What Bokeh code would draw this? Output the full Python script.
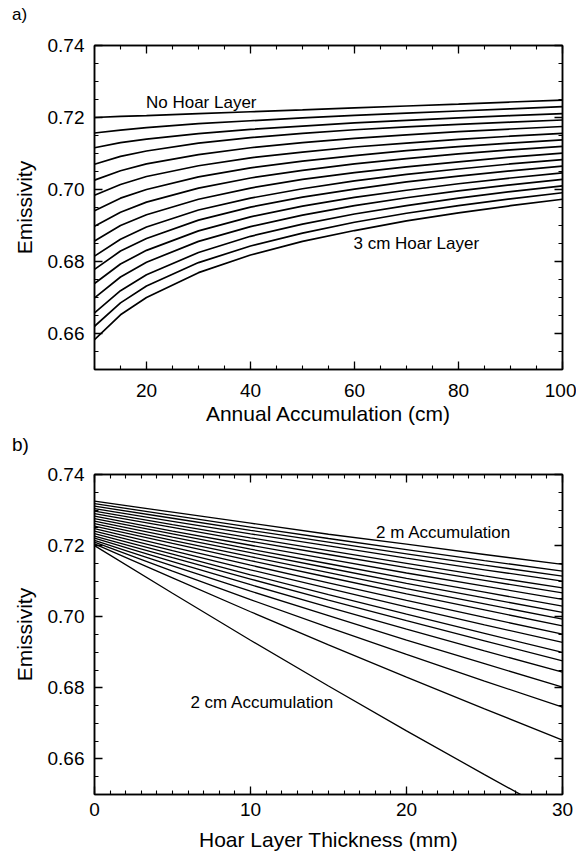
import numpy as np
from bokeh.plotting import figure
from bokeh.layouts import column
from bokeh.models import (Range1d, LinearAxis, FixedTicker, PrintfTickFormatter,
                          CustomLabelingPolicy, Div)
from bokeh.core.properties import value
from bokeh.embed import file_html
from bokeh.resources import INLINE

# ---------------- Panel a: emissivity vs annual accumulation ----------------
accumulation_cm = [10, 15, 20, 30, 40, 50, 60, 70, 80, 90, 100]
hoar_00mm = [0.7200, 0.7203, 0.7205, 0.7211, 0.7216, 0.7221, 0.7227, 0.7232, 0.7237, 0.7243, 0.7248]
hoar_02mm = [0.7157, 0.7165, 0.7172, 0.7183, 0.7191, 0.7199, 0.7206, 0.7212, 0.7218, 0.7224, 0.7230]
hoar_04mm = [0.7116, 0.7130, 0.7140, 0.7155, 0.7167, 0.7176, 0.7185, 0.7192, 0.7199, 0.7205, 0.7211]
hoar_06mm = [0.7070, 0.7092, 0.7107, 0.7129, 0.7144, 0.7156, 0.7166, 0.7174, 0.7181, 0.7187, 0.7193]
hoar_08mm = [0.7026, 0.7052, 0.7071, 0.7097, 0.7116, 0.7130, 0.7142, 0.7152, 0.7161, 0.7168, 0.7175]
hoar_10mm = [0.6984, 0.7014, 0.7036, 0.7066, 0.7088, 0.7104, 0.7118, 0.7129, 0.7139, 0.7148, 0.7156]
hoar_12mm = [0.6941, 0.6976, 0.7000, 0.7035, 0.7060, 0.7079, 0.7094, 0.7108, 0.7119, 0.7129, 0.7138]
hoar_14mm = [0.6898, 0.6937, 0.6965, 0.7004, 0.7032, 0.7053, 0.7071, 0.7086, 0.7099, 0.7110, 0.7120]
hoar_16mm = [0.6857, 0.6900, 0.6930, 0.6973, 0.7004, 0.7028, 0.7047, 0.7063, 0.7077, 0.7090, 0.7101]
hoar_18mm = [0.6815, 0.6862, 0.6896, 0.6943, 0.6976, 0.7002, 0.7024, 0.7042, 0.7057, 0.7071, 0.7083]
hoar_20mm = [0.6778, 0.6829, 0.6864, 0.6915, 0.6951, 0.6979, 0.7001, 0.7021, 0.7037, 0.7052, 0.7065]
hoar_22mm = [0.6739, 0.6793, 0.6831, 0.6885, 0.6924, 0.6954, 0.6978, 0.6998, 0.7016, 0.7032, 0.7046]
hoar_24mm = [0.6699, 0.6757, 0.6798, 0.6856, 0.6897, 0.6929, 0.6955, 0.6977, 0.6996, 0.7013, 0.7028]
hoar_26mm = [0.6657, 0.6719, 0.6763, 0.6825, 0.6870, 0.6904, 0.6932, 0.6955, 0.6976, 0.6994, 0.7010]
hoar_28mm = [0.6620, 0.6685, 0.6732, 0.6797, 0.6843, 0.6879, 0.6909, 0.6934, 0.6955, 0.6974, 0.6991]
hoar_30mm = [0.6583, 0.6652, 0.6700, 0.6769, 0.6818, 0.6856, 0.6886, 0.6913, 0.6935, 0.6955, 0.6973]
hoar_series = [hoar_00mm, hoar_02mm, hoar_04mm, hoar_06mm, hoar_08mm, hoar_10mm,
               hoar_12mm, hoar_14mm, hoar_16mm, hoar_18mm, hoar_20mm, hoar_22mm,
               hoar_24mm, hoar_26mm, hoar_28mm, hoar_30mm]

a_xticks = [20, 40, 60, 80, 100]
a_yticks = [0.66, 0.68, 0.70, 0.72, 0.74]

# ---------------- Panel b: emissivity vs hoar layer thickness ----------------
thickness_mm = [0, 5, 10, 15, 20, 25, 30]
acc_line_20 = [0.7325, 0.7294, 0.7263, 0.7232, 0.7204, 0.7175, 0.7147]   # 2 m
acc_line_19 = [0.7318, 0.7285, 0.7252, 0.7220, 0.7189, 0.7158, 0.7128]
acc_line_18 = [0.7311, 0.7277, 0.7243, 0.7210, 0.7177, 0.7145, 0.7114]
acc_line_17 = [0.7304, 0.7268, 0.7233, 0.7199, 0.7165, 0.7132, 0.7100]
acc_line_16 = [0.7297, 0.7259, 0.7222, 0.7186, 0.7150, 0.7115, 0.7081]
acc_line_15 = [0.7290, 0.7251, 0.7212, 0.7175, 0.7138, 0.7102, 0.7067]
acc_line_14 = [0.7283, 0.7241, 0.7201, 0.7162, 0.7123, 0.7086, 0.7049]
acc_line_13 = [0.7276, 0.7233, 0.7190, 0.7149, 0.7108, 0.7069, 0.7030]
acc_line_12 = [0.7269, 0.7224, 0.7180, 0.7137, 0.7094, 0.7053, 0.7012]
acc_line_11 = [0.7262, 0.7215, 0.7169, 0.7124, 0.7079, 0.7036, 0.6993]
acc_line_10 = [0.7255, 0.7206, 0.7158, 0.7111, 0.7064, 0.7019, 0.6974]
acc_line_09 = [0.7248, 0.7196, 0.7145, 0.7095, 0.7046, 0.6998, 0.6951]
acc_line_08 = [0.7241, 0.7186, 0.7132, 0.7080, 0.7028, 0.6977, 0.6928]
acc_line_07 = [0.7234, 0.7176, 0.7118, 0.7062, 0.7007, 0.6953, 0.6900]
acc_line_06 = [0.7227, 0.7166, 0.7106, 0.7047, 0.6989, 0.6932, 0.6876]
acc_line_05 = [0.7221, 0.7155, 0.7090, 0.7027, 0.6965, 0.6904, 0.6844]
acc_line_04 = [0.7215, 0.7143, 0.7072, 0.7003, 0.6934, 0.6868, 0.6802]
acc_line_03 = [0.7210, 0.7128, 0.7048, 0.6970, 0.6894, 0.6819, 0.6746]
acc_line_02 = [0.7205, 0.7109, 0.7014, 0.6921, 0.6830, 0.6741, 0.6653]
acc_line_01 = [0.7200, 0.7066, 0.6934, 0.6805, 0.6679, 0.6556, 0.6435]   # 2 cm
acc_series = [acc_line_01, acc_line_02, acc_line_03, acc_line_04, acc_line_05,
              acc_line_06, acc_line_07, acc_line_08, acc_line_09, acc_line_10,
              acc_line_11, acc_line_12, acc_line_13, acc_line_14, acc_line_15,
              acc_line_16, acc_line_17, acc_line_18, acc_line_19, acc_line_20]

b_xticks = [0, 10, 20, 30]
b_yticks = [0.66, 0.68, 0.70, 0.72, 0.74]

panel_tags = ["a)", "b)"]

FONT = "Liberation Sans"


def style_axes(p, xticks, xminor, yticks, yminor, xfmt):
    p.add_layout(LinearAxis(), "above")
    p.add_layout(LinearAxis(), "right")
    p.grid.visible = False
    p.outline_line_color = "black"
    p.outline_line_width = 1.5
    for ax in p.xaxis:
        ax.ticker = FixedTicker(ticks=xticks, minor_ticks=xminor)
        ax.formatter = PrintfTickFormatter(format=xfmt)
    for ax in p.yaxis:
        ax.ticker = FixedTicker(ticks=yticks, minor_ticks=yminor)
        ax.formatter = PrintfTickFormatter(format="%.2f")
    for ax in list(p.xaxis) + list(p.yaxis):
        ax.axis_line_color = "black"
        ax.axis_line_width = 1.5
        ax.major_tick_line_color = "black"
        ax.minor_tick_line_color = "black"
        ax.major_tick_line_width = 1.3
        ax.minor_tick_line_width = 1.1
        ax.major_tick_in = 8
        ax.major_tick_out = 0
        ax.minor_tick_in = 4
        ax.minor_tick_out = 0
        ax.major_label_text_font = FONT
        ax.major_label_text_font_size = "19px"
        ax.major_label_text_color = "black"
        ax.axis_label_text_font = FONT
        ax.axis_label_text_font_size = "21px"
        ax.axis_label_text_font_style = "normal"
        ax.axis_label_text_color = "black"
    for ax in p.above + p.right:
        ax.major_label_text_font_size = "0px"
        ax.major_label_standoff = 0
        ax.major_label_policy = CustomLabelingPolicy(code="return []")
        ax.axis_label = None
    for ax in p.left:
        ax.major_label_standoff = 10
        ax.axis_label_standoff = 9


def tag_div(tag, h, size, pad_top):
    return Div(text=tag, width=576, height=h, margin=0,
               styles={"font-family": FONT, "font-size": size, "line-height": size,
                       "padding-top": pad_top, "padding-left": "12px",
                       "box-sizing": "border-box", "color": "black"})


# ---- tag + figure a ----
ha = tag_div(panel_tags[0], 25, "17px", "6px")
pa = figure(width=576, height=405, x_range=Range1d(10, 100), y_range=Range1d(0.65, 0.74),
            output_backend="svg", toolbar_location=None,
            min_border_left=93, min_border_right=14, min_border_top=20, min_border_bottom=61,
            x_axis_label="Annual Accumulation (cm)", y_axis_label="Emissivity")
style_axes(pa, a_xticks, list(np.arange(10, 101, 5)), a_yticks,
           list(np.round(np.arange(0.65, 0.7401, 0.005), 3)), "%d")
pa.below[0].major_label_standoff = 14
pa.below[0].axis_label_standoff = 2
for ys in hoar_series:
    pa.line(accumulation_cm, ys, line_color="black", line_width=1.7)
pa.text(x=[19.9], y=[0.7241], text=["No Hoar Layer"], text_font=value(FONT),
        text_font_size="17px", text_baseline="middle", text_align="left", text_color="black")
pa.text(x=[59.8], y=[0.6849], text=["3 cm Hoar Layer"], text_font=value(FONT),
        text_font_size="17px", text_baseline="middle", text_align="left", text_color="black")

# ---- tag + figure b ----
hb = tag_div(panel_tags[1], 27, "19px", "5px")
pb = figure(width=576, height=396, x_range=Range1d(0, 30), y_range=Range1d(0.65, 0.74),
            output_backend="svg", toolbar_location=None,
            min_border_left=94, min_border_right=14, min_border_top=17, min_border_bottom=57,
            x_axis_label="Hoar Layer Thickness (mm)", y_axis_label="Emissivity")
style_axes(pb, b_xticks, list(np.arange(0, 31, 1)), b_yticks,
           list(np.round(np.arange(0.65, 0.7401, 0.005), 3)), "%d")
pb.below[0].major_label_standoff = 8
pb.below[0].axis_label_standoff = 9
for ys in acc_series:
    pb.line(thickness_mm, ys, line_color="black", line_width=1.3)
pb.text(x=[18.05], y=[0.7237], text=["2 m Accumulation"], text_font=value(FONT),
        text_font_size="17px", text_baseline="middle", text_align="left", text_color="black")
pb.text(x=[6.15], y=[0.6760], text=["2 cm Accumulation"], text_font=value(FONT),
        text_font_size="17px", text_baseline="middle", text_align="left", text_color="black")

layout = column(ha, pa, hb, pb, spacing=0)
open("out.html", "w").write(file_html(layout, INLINE))
